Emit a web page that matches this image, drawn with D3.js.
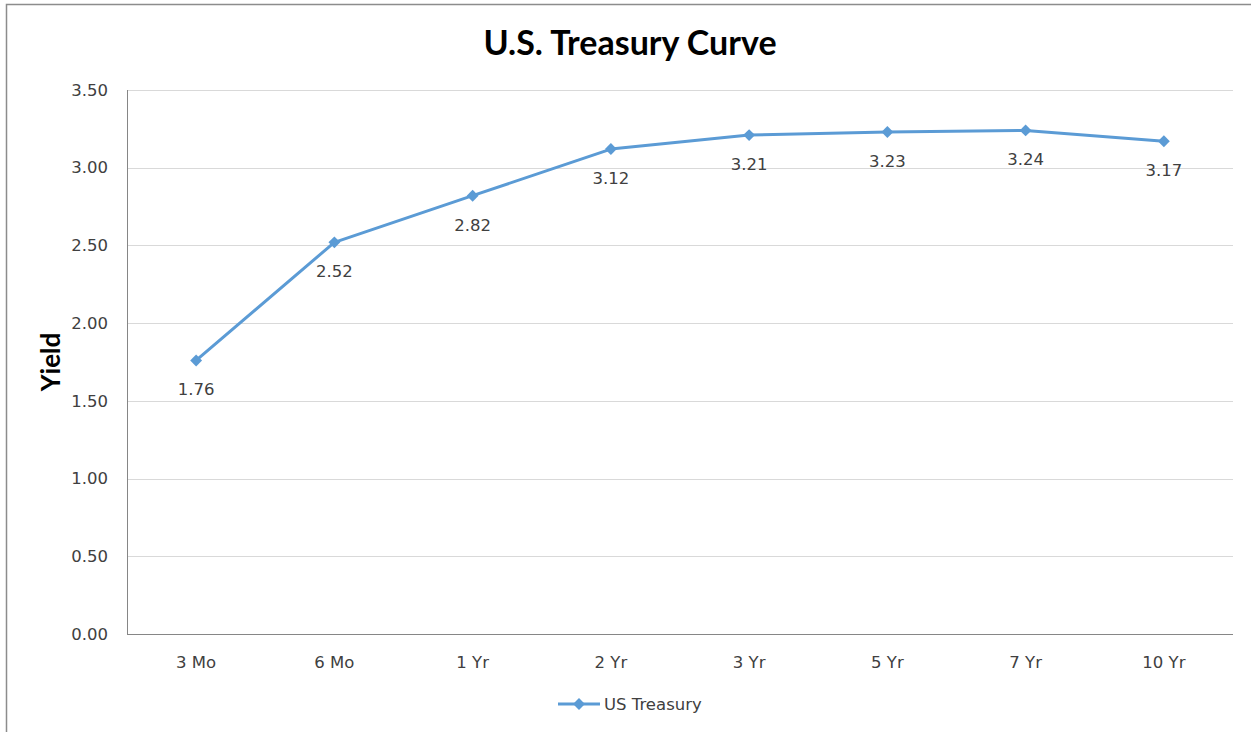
<!DOCTYPE html>
<html>
<head>
<meta charset="utf-8">
<script src="https://cdn.jsdelivr.net/npm/d3@7"></script>
<style>
  body { margin: 0; background: #fff; }
  svg { display: block; }
  .tick-label { font-family: "DejaVu Sans", sans-serif; font-size: 16.5px; fill: #404040; }
</style>
</head>
<body>
<div id="chart"></div>
<script>
// chart data
const maturities = ["3 Mo", "6 Mo", "1 Yr", "2 Yr", "3 Yr", "5 Yr", "7 Yr", "10 Yr"];
const yields = [1.76, 2.52, 2.82, 3.12, 3.21, 3.23, 3.24, 3.17];
const yTicks = [0, 0.5, 1, 1.5, 2, 2.5, 3, 3.5];
const seriesName = "US Treasury";

const svgWidth = 1251;
const svgHeight = 732;
const margin = { top: 90, right: 18, bottom: 98, left: 127 };
const width = svgWidth - margin.left - margin.right;
const height = svgHeight - margin.top - margin.bottom;
const blue = "#5b9bd5";

const svg = d3.select("#chart")
  .append("svg")
  .attr("width", svgWidth)
  .attr("height", svgHeight);

// outer chart border
svg.append("rect")
  .attr("x", 6.5).attr("y", 4.5)
  .attr("width", svgWidth + 10).attr("height", svgHeight + 10)
  .attr("fill", "none")
  .attr("stroke", "#8c8c8c")
  .attr("stroke-width", 1.5);

const chartGroup = svg.append("g")
  .attr("transform", `translate(${margin.left}, ${margin.top})`);

// scales
const xScale = d3.scaleBand().domain(maturities).range([0, width]);
const yScale = d3.scaleLinear().domain([0, 3.5]).range([height, 0]);

// gridlines
chartGroup.append("g")
  .selectAll("line")
  .data(yTicks.filter(d => d > 0))
  .enter()
  .append("line")
  .attr("x1", 0).attr("x2", width)
  .attr("y1", d => Math.round(yScale(d)) + 0.5)
  .attr("y2", d => Math.round(yScale(d)) + 0.5)
  .attr("stroke", "#d9d9d9");

// axes
const leftAxis = d3.axisLeft(yScale).tickValues(yTicks).tickFormat(d3.format(".2f")).tickSize(0).tickPadding(19);
const bottomAxis = d3.axisBottom(xScale).tickSize(0).tickPadding(22);

const yAxisG = chartGroup.append("g").call(leftAxis);
yAxisG.select(".domain").attr("stroke", "#868686").attr("d", `M0.5,0V${height}`);
yAxisG.selectAll("text").attr("class", "tick-label").attr("font-family", null).attr("font-size", null);

const xAxisG = chartGroup.append("g")
  .attr("transform", `translate(0, ${height})`)
  .call(bottomAxis);
xAxisG.select(".domain").attr("stroke", "#868686").attr("d", `M0,0.5H${width}`);
xAxisG.selectAll("text").attr("class", "tick-label").attr("font-family", null).attr("font-size", null);

// line
const cx = d => xScale(d) + xScale.bandwidth() / 2;
const line = d3.line()
  .x((d, i) => cx(maturities[i]))
  .y(d => yScale(d));

chartGroup.append("path")
  .datum(yields)
  .attr("d", line)
  .attr("fill", "none")
  .attr("stroke", blue)
  .attr("stroke-width", 3)
  .attr("stroke-linejoin", "round");

// diamond markers
const diamond = d3.symbol().type(d3.symbolDiamond2).size(90);
chartGroup.selectAll(".marker")
  .data(yields)
  .enter()
  .append("path")
  .attr("class", "marker")
  .attr("d", diamond)
  .attr("transform", (d, i) => `translate(${cx(maturities[i])}, ${yScale(d)})`)
  .attr("fill", blue);

// data labels
chartGroup.selectAll(null)
  .data(yields)
  .enter()
  .append("text")
  .attr("class", "tick-label")
  .attr("x", (d, i) => cx(maturities[i]))
  .attr("y", d => yScale(d) + 35)
  .attr("text-anchor", "middle")
  .text(d => d.toFixed(2));

// title
svg.append("text")
  .attr("x", 630)
  .attr("y", 55)
  .attr("text-anchor", "middle")
  .attr("font-family", "Lato, sans-serif")
  .attr("font-weight", "bold")
  .attr("font-size", 34)
  .attr("fill", "#000")
  .text("U.S. Treasury Curve");

// y axis title
svg.append("text")
  .attr("transform", "translate(60, 362) rotate(-90)")
  .attr("text-anchor", "middle")
  .attr("font-family", "Lato, sans-serif")
  .attr("font-weight", "bold")
  .attr("font-size", 26)
  .attr("fill", "#000")
  .text("Yield");

// legend
const legend = svg.append("g").attr("transform", "translate(558, 704)");
legend.append("line")
  .attr("x1", 0).attr("x2", 42)
  .attr("stroke", blue).attr("stroke-width", 3);
legend.append("path")
  .attr("d", diamond)
  .attr("transform", "translate(21, 0)")
  .attr("fill", blue);
legend.append("text")
  .attr("class", "tick-label")
  .attr("x", 46)
  .attr("y", 6)
  .text(seriesName);
</script>
</body>
</html>
